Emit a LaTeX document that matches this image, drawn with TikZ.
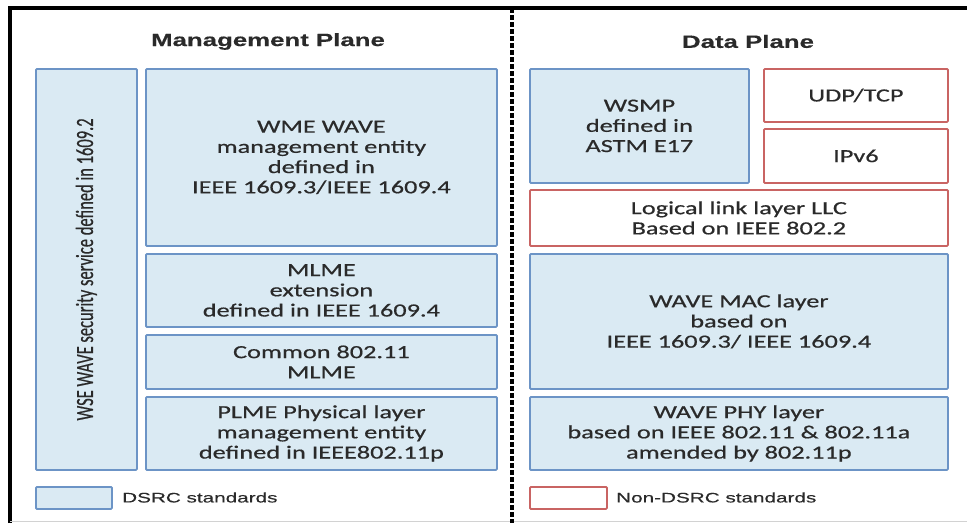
\documentclass[tikz,border=0pt]{standalone}
\usepackage{fontspec}
\setmainfont{Carlito}
\newfontfamily\boxfont[FakeStretch=1.42, FakeBold=0.6]{Carlito}
\newfontfamily\sidefont[FakeBold=0.6]{Carlito}
\newfontfamily\headfont[FakeStretch=1.45, FakeBold=0.4]{Liberation Sans}
\newfontfamily\keyfont[FakeStretch=1.5, FakeBold=0.4]{Liberation Sans}
\definecolor{dsrcfill}{HTML}{DAEAF3}
\definecolor{dsrcline}{HTML}{6C94C6}
\definecolor{otherline}{HTML}{C96463}
\definecolor{inkgray}{HTML}{2A2A2A}
\tikzset{
  layer/.style={rectangle, line width=1.8pt, rounded corners=1pt, anchor=north west,
    align=center, inner sep=0pt, text=inkgray,
    font=\boxfont\fontsize{18.5}{20.2}\selectfont},
  dsrc/.style={layer, draw=dsrcline, fill=dsrcfill},
  nondsrc/.style={layer, draw=otherline, fill=white},
  planetitle/.style={font=\headfont\bfseries\fontsize{17.8}{20}\selectfont, text=inkgray},
  keytext/.style={anchor=west, inner sep=0pt, text=inkgray,
    font=\keyfont\fontsize{13.8}{16}\selectfont}
}
\begin{document}
\begin{tikzpicture}[x=1pt, y=-1pt]
  \useasboundingbox (0,0) rectangle (967,523);
  % outer frame and plane divider
  \draw[line width=3.2pt] (10,523) -- (10,8) -- (967,8);
  \draw[gray!35, line width=1pt] (10,521.5) -- (967,521.5);
  \draw[line width=3.4pt, dash pattern=on 4.5pt off 2.5pt] (512,8) -- (512,523);

  % plane headings
  \node[planetitle] (mgmt) at (268,41.5) {Management Plane};
  \node[planetitle] (data) at (748,41.5) {Data Plane};

  % management plane
  \node[dsrc, minimum width=101pt, minimum height=401pt] (wse) at (35,68) {};
  \node[rotate=90, inner sep=0pt, text=inkgray] (wsetext) at (wse.center)
    {\scalebox{1}[1.5]{\sidefont\fontsize{16.5}{18}\selectfont WSE WAVE security service defined in 1609.2}};
  \node[dsrc, minimum width=351pt, minimum height=177pt] (wme) at (145,68)
    {WME WAVE\\management entity\\defined in\\IEEE 1609.3/IEEE 1609.4};
  \node[dsrc, minimum width=351pt, minimum height=73pt] (mlme) at (145,253)
    {MLME\\extension\\defined in IEEE 1609.4};
  \node[dsrc, minimum width=351pt, minimum height=54pt] (common) at (145,334)
    {Common 802.11\\MLME};
  \node[dsrc, minimum width=351pt, minimum height=73pt] (plme) at (145,396)
    {PLME Physical layer\\management entity\\defined in IEEE802.11p};

  % data plane
  \node[dsrc, minimum width=219pt, minimum height=114pt] (wsmp) at (529,68)
    {WSMP\\defined in\\ASTM E17};
  \node[nondsrc, minimum width=184pt, minimum height=53pt] (udp) at (763,68)
    {UDP/TCP};
  \node[nondsrc, minimum width=184pt, minimum height=54pt] (ipv6) at (763,128)
    {IPv6};
  \node[nondsrc, minimum width=418pt, minimum height=56pt] (llc) at (529,189)
    {Logical link layer LLC\\Based on IEEE 802.2};
  \node[dsrc, minimum width=418pt, minimum height=135pt] (mac) at (529,253)
    {WAVE MAC layer\\based on\\IEEE 1609.3/ IEEE 1609.4};
  \node[dsrc, minimum width=418pt, minimum height=73pt] (phy) at (529,396)
    {WAVE PHY layer\\based on IEEE 802.11 \& 802.11a\\amended by 802.11p};

  % legend
  \node[dsrc, minimum width=76pt, minimum height=22pt] (keyd) at (35,486) {};
  \node[keytext] (keydtext) at (122,497.5) {DSRC standards};
  \node[nondsrc, minimum width=77pt, minimum height=22pt] (keyn) at (529,486) {};
  \node[keytext] (keyntext) at (616,497.5) {Non-DSRC standards};
\end{tikzpicture}
\end{document}
